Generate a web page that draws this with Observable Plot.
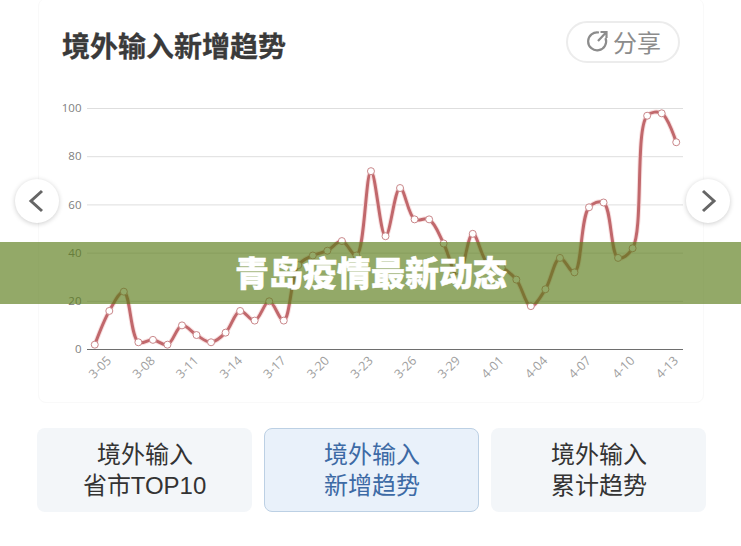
<!DOCTYPE html>
<html><head><meta charset="utf-8">
<script src="https://cdn.jsdelivr.net/npm/d3@7"></script>
<script src="https://cdn.jsdelivr.net/npm/@observablehq/plot@0.6"></script>
<style>
@font-face{font-family:"TabCJK";src:local("Noto Sans CJK SC");ascent-override:85%;descent-override:15%;line-gap-override:0%;}
html,body{margin:0;padding:0;background:#fff;}
body{width:741px;height:546px;position:relative;overflow:hidden;font-family:"Noto Sans CJK SC","Noto Sans",sans-serif;}
#card{position:absolute;left:38px;top:-2px;width:666px;height:405px;border:1px solid #f9f9f9;border-radius:8px;box-sizing:border-box;}
#chart{position:absolute;left:0;top:0;}
#chart svg{display:block;background:transparent;}
#title{position:absolute;left:62px;top:25px;font-size:28px;line-height:40px;font-weight:700;color:#3a3a3a;-webkit-text-stroke:0.3px #3a3a3a;}
#share{position:absolute;left:566px;top:21px;width:114px;height:42px;border:2px solid #ececec;border-radius:21px;box-sizing:border-box;color:#8c8c8c;font-size:24px;line-height:37px;padding-left:45px;}
#share svg{position:absolute;left:17px;top:6px;}
.nav{position:absolute;top:179px;width:44px;height:44px;border-radius:50%;background:#fff;box-shadow:0 1px 5px rgba(0,0,0,.2);}
.nav svg{position:absolute;left:0;top:0;}
#band{position:absolute;left:0;top:242px;width:741px;height:62px;background:rgba(89,123,23,.65);}
#headline{position:absolute;left:0;top:241px;width:741px;height:62px;padding-left:1px;box-sizing:border-box;text-align:center;line-height:62px;font-size:34px;font-weight:900;color:#fff;-webkit-text-stroke:0.5px #fff;}
.tab{position:absolute;top:428px;width:215px;height:84px;border-radius:8px;background:#f3f6f9;color:#333;font-family:"Liberation Sans","TabCJK","Noto Sans CJK SC",sans-serif;font-size:24px;line-height:31px;text-align:center;box-sizing:border-box;padding-top:11px;}
.tab.on{background:#e9f1fa;color:#3d6aa5;border:1px solid #bcd0e4;padding-top:10px;}
.tab span{display:block;}
</style></head><body>
<div id="card"></div>
<div id="chart"></div>
<div id="title"></div>
<div id="share"><svg width="24" height="24" viewBox="0 0 24 24" fill="none" stroke="#8c8c8c" stroke-width="2.2"><path d="M14 3.5 A9 9 0 1 0 20.5 9"/><path d="M13 12 L21 3.5 M15.5 3 H21.5 V9"/></svg><span id="shareText"></span></div>
<div class="nav" style="left:15px"><svg width="44" height="44" fill="none" stroke="#666" stroke-width="3"><path d="M27 12 L16 22 L27 32"/></svg></div>
<div class="nav" style="left:686px"><svg width="44" height="44" fill="none" stroke="#666" stroke-width="3"><path d="M17 12 L28 22 L17 32"/></svg></div>
<div id="band"></div>
<div id="headline"></div>
<div id="tabs"></div>
<script>
const chartTitle = "境外输入新增趋势";
const shareLabel = "分享";
const headline = "青岛疫情最新动态";
const dates = ["3-04","3-05","3-06","3-07","3-08","3-09","3-10","3-11","3-12","3-13","3-14","3-15","3-16","3-17","3-18","3-19","3-20","3-21","3-22","3-23","3-24","3-25","3-26","3-27","3-28","3-29","3-30","3-31","4-01","4-02","4-03","4-04","4-05","4-06","4-07","4-08","4-09","4-10","4-11","4-12","4-13"];
const values = [2,16,24,3,4,2,10,6,3,7,16,12,20,12,35,39,41,45,39,74,47,67,54,54,44,30,48,36,34,29,18,25,38,32,59,61,38,42,97,98,86];
const xTicks = ["3-05","3-08","3-11","3-14","3-17","3-20","3-23","3-26","3-29","4-01","4-04","4-07","4-10","4-13"];
const yTicks = [0,20,40,60,80,100];
const tabs = [["境外输入","省市TOP10"],["境外输入","新增趋势"],["境外输入","累计趋势"]];
const activeTab = 1;
const tabLeft = [37,264,491];

const rows = dates.map((d,i)=>({date:d,value:values[i]}));
const smooth = "catmull-rom";

const plot = Plot.plot({
  width:741, height:546,
  marginLeft:87, marginRight:58, marginTop:108, marginBottom:197,
  style:{background:"transparent",fontFamily:"'Open Sans','Noto Sans',sans-serif"},
  x:{type:"point",domain:dates,padding:0.5,round:false,label:null},
  y:{domain:[0,100],label:null},
  marks:[
    Plot.ruleY(yTicks.filter(v=>v>0),{stroke:"#dedede",strokeWidth:1}),
    Plot.ruleY([0],{stroke:"#6e6e6e",strokeWidth:1.2}),
    Plot.axisY({ticks:yTicks,tickSize:0,tickPadding:6,label:null,fontSize:11.5,color:"#808080"}),
    Plot.axisX({ticks:xTicks,tickSize:0,tickRotate:-45,tickPadding:9,label:null,fontSize:12.5,color:"#a0a0a0"}),
    Plot.line(rows,{x:"date",y:"value",curve:smooth,stroke:"#f8e0e1",strokeWidth:5}),
    Plot.line(rows,{x:"date",y:"value",curve:smooth,stroke:"#c1686c",strokeWidth:3}),
    Plot.dot(rows,{x:"date",y:"value",r:3.5,fill:"#fff",stroke:"#c9878a",strokeWidth:1})
  ]
});
document.getElementById("chart").append(plot);
document.getElementById("title").textContent = chartTitle;
document.getElementById("shareText").textContent = shareLabel;
document.getElementById("headline").textContent = headline;
const host = document.getElementById("tabs");
tabs.forEach((lines,i)=>{
  const el = document.createElement("div");
  el.className = "tab"+(i===activeTab?" on":"");
  el.style.left = tabLeft[i]+"px";
  lines.forEach(t=>{const s=document.createElement("span");s.textContent=t;el.append(s);});
  host.append(el);
});
</script>
</body></html>
